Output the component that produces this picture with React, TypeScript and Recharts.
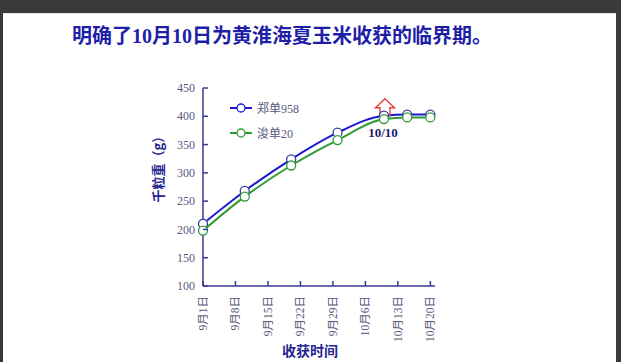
import React from 'react';
import { LineChart, Line, XAxis, YAxis, Legend, ReferenceDot, Label } from 'recharts';

const days = [0, 9, 19, 29, 39, 44, 49];
const zhengdan958 = [210, 268, 324, 371, 401, 403, 403];
const xundan20 = [198, 258, 313, 358, 395, 398, 398];
const xTicks = [0, 7, 14, 21, 28, 35, 42, 49];
const xTickLabels = ['9月1日', '9月8日', '9月15日', '9月22日', '9月29日', '10月6日', '10月13日', '10月20日'];
const yTicks = [100, 150, 200, 250, 300, 350, 400, 450];
const criticalDay = 39;
const criticalLabel = '10/10';

const data = days.map((d, i) => ({ day: d, a: zhengdan958[i], b: xundan20[i] }));

const AXIS = '#3a3a8c';
const TICK_TEXT = '#58587e';
const SERIF = '"Liberation Serif", "Noto Sans CJK SC", serif';
const CJK = '"Noto Sans CJK SC", sans-serif';
const BLUE = '#1a1ad2';
const GREEN = '#2f9a36';

const XTick = (props: any) => {
  const { x, y, payload } = props;
  const label = xTickLabels[xTicks.indexOf(payload.value)];
  return (
    <g>
      <line x1={x} y1={y - 10} x2={x} y2={y - 15} stroke={AXIS} strokeWidth={1.5} />
      <text x={x} y={y} transform={`rotate(-90 ${x} ${y})`} textAnchor="end" dy="0.35em"
        fontSize={11.5} fill={TICK_TEXT} fontFamily={SERIF}>{label}</text>
    </g>
  );
};

const YTick = (props: any) => {
  const { x, y, payload } = props;
  return (
    <g>
      <line x1={x + 8} y1={y} x2={x + 13} y2={y} stroke={AXIS} strokeWidth={1.5} />
      <text x={x} y={y} textAnchor="end" dy="0.35em" fontSize={12} fill={TICK_TEXT} fontFamily={SERIF}>
        {payload.value}
      </text>
    </g>
  );
};

const YTitle = (props: any) => {
  const { viewBox } = props;
  const x = viewBox.x + 15;
  const y = viewBox.y + 78;
  return (
    <text x={x} y={y} transform={`rotate(-90 ${x} ${y})`} textAnchor="middle" dy="0.35em"
      fontSize={13} fontWeight={700} fill="#25258f" fontFamily={CJK}>千粒重（g）</text>
  );
};

const XTitle = (props: any) => {
  const { viewBox } = props;
  return (
    <text x={viewBox.x + 107} y={viewBox.y + 70} textAnchor="middle"
      fontSize={14} fontWeight={700} fill="#25258f" fontFamily={CJK}>收获时间</text>
  );
};

const CriticalMark = (props: any) => {
  const { cx, cy } = props;
  const d = `M${cx + 1} ${cy - 17} L${cx + 10.5} ${cy - 8} L${cx + 6} ${cy - 8} L${cx + 6} ${cy}` +
    ` L${cx - 4} ${cy} L${cx - 4} ${cy - 8} L${cx - 8.5} ${cy - 8} Z`;
  return (
    <g>
      <path d={d} fill="none" stroke="#e0403c" strokeWidth={1.4} />
      <text x={cx - 1} y={cy + 21} textAnchor="middle" fontSize={13} fontWeight={700}
        fill="#1c1c6a" fontFamily={SERIF}>{criticalLabel}</text>
    </g>
  );
};

const LegendContent = (props: any) => {
  const { payload } = props;
  return (
    <div>
      {(payload || []).map((p: any) => (
        <div key={p.value} style={{ display: 'flex', alignItems: 'center', height: 25 }}>
          <svg width={26} height={12} style={{ marginRight: 4 }}>
            <line x1={3} y1={6} x2={25} y2={6} stroke={p.color} strokeWidth={2} />
            <circle cx={14} cy={6} r={4} fill="#fff" stroke={p.color} strokeWidth={1.3} />
          </svg>
          <span style={{ fontSize: 12, color: TICK_TEXT, fontFamily: SERIF }}>{p.value}</span>
        </div>
      ))}
    </div>
  );
};

export default function App() {
  return (
    <div style={{ position: 'fixed', left: 0, top: 0, width: 621, height: 362, background: '#3a3a3c' }}>
      <div style={{ position: 'absolute', left: 3, top: 13, width: 613, height: 349, background: '#fff',
        borderTop: '1px solid #e4e4ea' }} />
      <div style={{ position: 'absolute', left: 72, top: 24, lineHeight: '24px', fontSize: 20, fontWeight: 700,
        color: '#1e1ea8', fontFamily: SERIF, whiteSpace: 'nowrap' }}>
        明确了10月10日为黄淮海夏玉米收获的临界期。
      </div>
      <div style={{ position: 'absolute', left: 0, top: 0 }}>
        <LineChart width={621} height={362} data={data} margin={{ top: 88, right: 186, bottom: 16, left: 143 }}>
          <XAxis dataKey="day" type="number" domain={[0, 50]} ticks={xTicks} interval={0}
            axisLine={{ stroke: AXIS, strokeWidth: 1.5 }} tickLine={false} tickSize={0} tickMargin={10}
            height={60} tick={<XTick />}>
            <Label content={<XTitle />} />
          </XAxis>
          <YAxis type="number" domain={[100, 450]} ticks={yTicks} interval={0} width={60}
            axisLine={{ stroke: AXIS, strokeWidth: 1.5 }} tickLine={false} tickSize={0} tickMargin={8}
            tick={<YTick />}>
            <Label content={<YTitle />} />
          </YAxis>
          <Legend layout="vertical" align="center" verticalAlign="middle" itemSorter="dataKey"
            content={<LegendContent />} wrapperStyle={{ left: 227, top: 95, width: 120 }} />
          <Line name="郑单958" type="monotone" dataKey="a" stroke={BLUE} strokeWidth={2}
            dot={{ r: 4.5, fill: '#fff', stroke: '#3a3a9a', strokeWidth: 1.3 }} isAnimationActive={false} />
          <Line name="浚单20" type="monotone" dataKey="b" stroke={GREEN} strokeWidth={2}
            dot={{ r: 4.5, fill: '#fff', stroke: GREEN, strokeWidth: 1.3 }} isAnimationActive={false} />
          <ReferenceDot x={criticalDay} y={zhengdan958[days.indexOf(criticalDay)]} shape={<CriticalMark />} />
        </LineChart>
      </div>
    </div>
  );
}
